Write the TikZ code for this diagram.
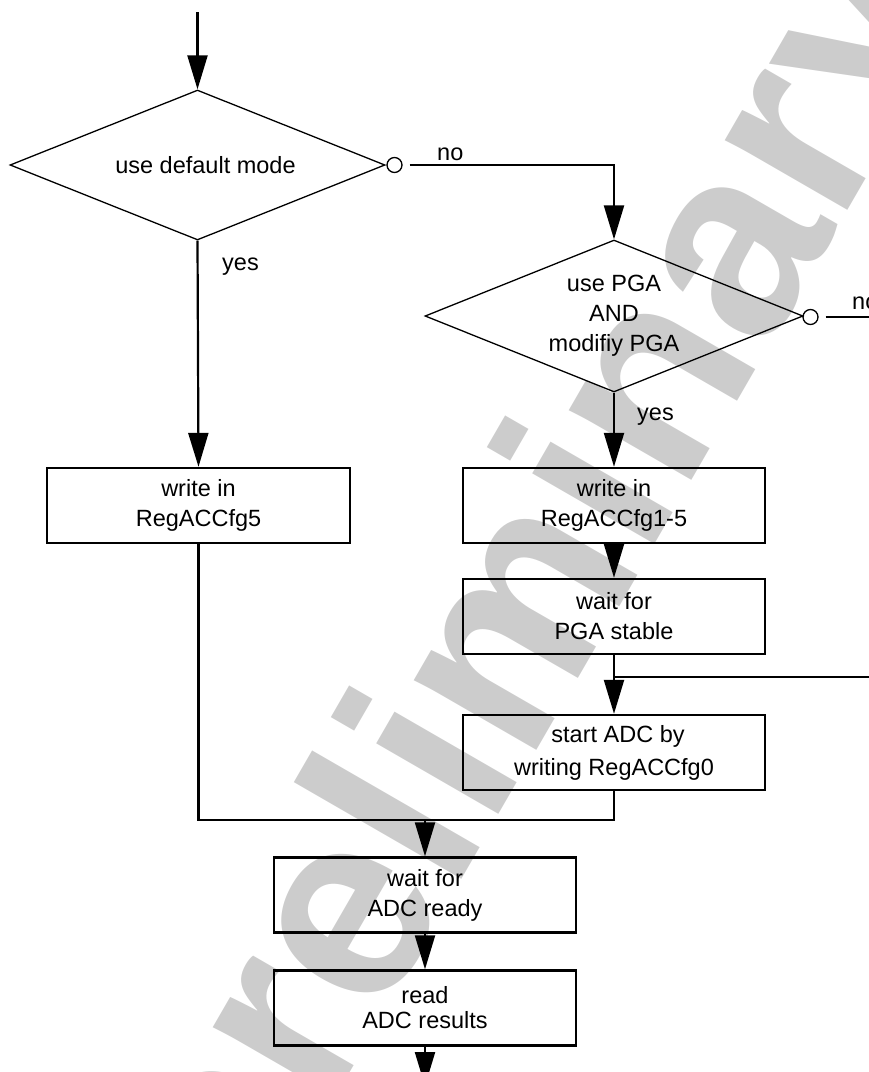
\documentclass[tikz,border=0pt]{standalone}
\usepackage{fontspec}
\setmainfont{Liberation Sans}
\newfontfamily\wmfamily{Liberation Sans}
\usetikzlibrary{arrows.meta,shapes.geometric}
\begin{document}
\begin{tikzpicture}[x=1pt,y=-1pt,
  txt/.style={font=\fontsize{23.5pt}{30pt}\selectfont},
  conn/.style={line width=2.2pt},
  arr/.style={conn, -{Triangle[length=34pt,width=20pt]}},
  box/.style={draw, line width=2.4pt, minimum width=302pt, minimum height=75pt, inner sep=0pt, align=center, txt},
  dec/.style={draw, diamond, aspect=2.5, line width=1.3pt, inner sep=0pt, align=center, txt},
  knob/.style={draw, circle, line width=1.3pt, minimum size=15pt, inner sep=0pt},
  lbl/.style={inner sep=0pt, anchor=base west, txt},
  wm/.style={rotate=60, anchor=base west, inner sep=0pt, text=black!20, font=\wmfamily\bfseries\fontsize{267pt}{267pt}\selectfont}
]
\useasboundingbox (0,0) rectangle (869,1072);
% watermark
\node[wm] (mark) at (245,1255) {preliminary};

% nodes
\node[dec, minimum width=375pt, minimum height=150pt] (d1) at (197.5,165) {\hspace*{16pt}use default mode};
\node[knob] (c1) at (394.5,165) {};
\node[dec, minimum width=378pt, minimum height=152pt] (d2) at (614,316) {use PGA\\AND\\modifiy PGA};
\node[knob] (c2) at (810.5,317) {};

\node[box, minimum width=303pt] (b5) at (198.5,505.5) {write in\\RegACCfg5};
\node[box] (b15) at (614,505.5) {write in\\RegACCfg1-5};
\node[box] (wpga) at (614,616.5) {wait for\\PGA stable};
\node[box, font=\fontsize{23.5pt}{33pt}\selectfont] (sadc) at (614,752.5) {\hspace*{8pt}start ADC by\\writing RegACCfg0};
\node[box] (wadc) at (425,895) {wait for\\ADC ready};
\node[box, font=\fontsize{23.5pt}{25pt}\selectfont] (rd) at (425,1008) {read\\ADC results};

\coordinate (top) at (197.5,12);
\coordinate (outR) at (875,317);
\coordinate (inR) at (875,677);
\coordinate (m) at (425,820);
\coordinate (bot) at (425,1086);

% connectors
\draw[arr] (top) -- (d1.north);
\draw[arr] (d1.south) -- (b5.north);
\draw[arr] ([xshift=7pt]c1.east) -| (d2.north);
\draw[arr] (d2.south) -- (b15.north);
\draw[conn] ([xshift=7pt]c2.east) -- (outR);
\draw[arr] (b15.south) -- (wpga.north);
\draw[arr] (wpga.south) -- (sadc.north);
\draw[conn] (inR) -- (inR -| sadc.north);
\draw[conn] (b5.south) |- (m) -| (sadc.south);
\draw[arr] (m) -- (wadc.north);
\draw[arr] (wadc.south) -- (rd.north);
\draw[arr] (rd.south) -- (bot);

% labels
\node[lbl] (no1) at (437,160) {no};
\node[lbl] (yes1) at (222,270) {yes};
\node[lbl] (yes2) at (637,420) {yes};
\node[lbl] (no2) at (852,309) {no};
\end{tikzpicture}
\end{document}
